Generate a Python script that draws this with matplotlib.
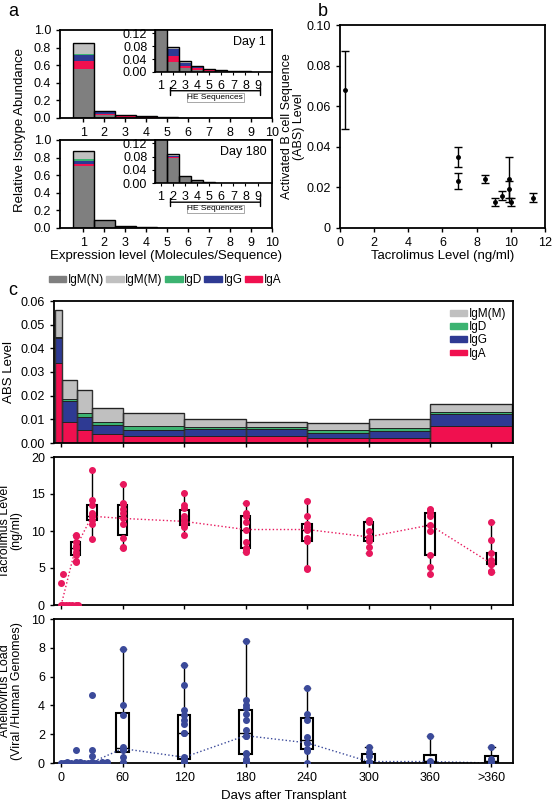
import numpy as np
import matplotlib
matplotlib.use('Agg')
import matplotlib.pyplot as plt
from matplotlib.patches import Patch

plt.rcParams['font.family'] = ['Liberation Sans', 'DejaVu Sans']
plt.rcParams['font.size'] = 9

# ---- panel a data: stacked cumulative tops per bin (IgM(N), +IgA, +IgG, +IgD, +IgM(M))
bins_a = np.arange(1, 11)
d1_n = [0.56, 0.032, 0.011, 0.005, 0.004, 0.002, 0.001, 0.001, 0.0005, 0.0003]
d1_a = [0.65, 0.050, 0.020, 0.013, 0.006, 0.003, 0.002, 0.0012, 0.0007, 0.0004]
d1_g = [0.72, 0.070, 0.028, 0.016, 0.008, 0.004, 0.0025, 0.0015, 0.0009, 0.0005]
d1_d = [0.73, 0.071, 0.029, 0.017, 0.0085, 0.0045, 0.0027, 0.0016, 0.001, 0.0006]
d1_m = [0.85, 0.078, 0.034, 0.019, 0.010, 0.005, 0.003, 0.002, 0.001, 0.0007]
d180_n = [0.71, 0.077, 0.018, 0.007, 0.0025, 0.001, 0.0005, 0.0003, 0.0002, 0.0001]
d180_a = [0.73, 0.079, 0.0185, 0.0072, 0.0026, 0.0011, 0.0005, 0.0003, 0.0002, 0.0001]
d180_g = [0.76, 0.082, 0.019, 0.0075, 0.0027, 0.0012, 0.0006, 0.0003, 0.0002, 0.0001]
d180_d = [0.78, 0.083, 0.0195, 0.0077, 0.0028, 0.0012, 0.0006, 0.0003, 0.0002, 0.0001]
d180_m = [0.88, 0.088, 0.020, 0.008, 0.003, 0.0013, 0.0006, 0.0003, 0.0002, 0.0001]

# ---- panel b data
tac_b = [0.3, 6.9, 6.9, 8.5, 9.1, 9.5, 9.9, 9.9, 10.0, 11.3]
abs_b = [0.068, 0.035, 0.023, 0.024, 0.013, 0.016, 0.024, 0.019, 0.013, 0.015]
err_b = [0.019, 0.005, 0.004, 0.002, 0.002, 0.002, 0.011, 0.004, 0.002, 0.002]

# ---- panel c top: ABS level bins (days) and cumulative tops
edges_c = [-6, 1, 15, 30, 60, 120, 180, 240, 300, 360, 440]
abs_iga = [0.034, 0.009, 0.0055, 0.004, 0.003, 0.003, 0.003, 0.002, 0.002, 0.0072]
abs_igg = [0.0445, 0.0178, 0.011, 0.0075, 0.0055, 0.006, 0.006, 0.0042, 0.005, 0.0122]
abs_igd = [0.045, 0.0188, 0.0127, 0.0087, 0.007, 0.0068, 0.0068, 0.0055, 0.0065, 0.013]
abs_igm = [0.056, 0.0265, 0.0225, 0.0148, 0.0125, 0.0103, 0.0088, 0.0083, 0.0101, 0.0163]

# ---- panel c middle: tacrolimus per visit
tac_days = [0, 14, 30, 60, 120, 180, 240, 300, 360, 420]
tac_vals = [
    [0, 0, 0, 0, 0, 0, 0, 3.0, 4.2],
    [5.8, 6.0, 6.8, 7.2, 7.7, 8.0, 8.5, 9.3, 9.5],
    [8.9, 11.0, 11.5, 12.0, 12.0, 12.5, 13.5, 14.2, 18.2],
    [7.7, 7.9, 9.0, 11.0, 11.7, 12.4, 13.0, 13.6, 13.8, 16.3],
    [9.4, 10.5, 10.8, 11.0, 11.3, 11.6, 12.0, 13.1, 13.5, 15.1],
    [7.2, 7.5, 7.7, 8.5, 10.2, 11.2, 12.0, 12.5, 13.8],
    [4.9, 5.0, 8.6, 9.0, 10.2, 10.5, 11.0, 12.0, 14.0],
    [7.0, 7.9, 8.7, 9.0, 9.2, 10.0, 11.2, 11.4, 11.5],
    [4.2, 5.2, 6.7, 10.0, 10.8, 12.0, 12.5, 12.9, 13.0],
    [4.4, 4.6, 5.5, 5.6, 5.6, 6.1, 7.0, 8.8, 11.2],
]
tac_day0_x = [0, 2, 5, 8, 11, 14, 16, 0, 2]
tac_med = [0, 7.7, 12.0, 11.7, 11.3, 10.2, 10.2, 9.2, 10.8, 5.6]

# ---- panel c bottom: anellovirus
an_early_x = [0, 3, 6, 10, 14, 14, 18, 22, 26, 30, 30, 30, 30, 34, 40, 45]
an_early_y = [0.02, 0.02, 0.05, 0.03, 0.9, 0.05, 0.04, 0.02, 0.03, 4.7, 0.9, 0.5, 0.05, 0.03, 0.08, 0.05]
an_days = [60, 120, 180, 240, 300, 360, 420]
an_vals = [
    [0.1, 0.4, 0.9, 1.0, 1.1, 3.3, 4.0, 7.9],
    [0.0, 0.05, 0.1, 0.3, 0.4, 2.1, 2.1, 2.7, 3.0, 3.3, 3.7, 5.4, 6.8],
    [0.05, 0.1, 0.3, 0.6, 0.7, 1.9, 1.9, 2.3, 3.0, 3.4, 3.8, 4.0, 4.4, 8.5],
    [0.0, 0.8, 1.0, 1.4, 1.8, 3.0, 3.4, 5.2],
    [0.0, 0.05, 0.1, 0.1, 0.5, 0.75, 1.1],
    [0.0, 0.1, 0.15, 1.85],
    [0.0, 0.05, 0.25, 1.1],
]
an_med_x = [0, 30, 60, 120, 180, 240, 300, 360, 420]
an_med = [0.0, 0.05, 1.0, 0.4, 1.9, 1.4, 0.1, 0.1, 0.0]

c_n, c_m, c_d, c_g, c_a = '#7f7f7f', '#c0c0c0', '#3cb371', '#2e3a93', '#f0104f'
pink, navy = '#e8175d', '#3b4a9a'

fig = plt.figure(figsize=(5.53, 8.0), dpi=100)
W, H = 553.0, 800.0
def ax_px(x0, y0, x1, y1):
    return fig.add_axes([x0 / W, 1 - y1 / H, (x1 - x0) / W, (y1 - y0) / H])

def stack_bars(ax, x, layers, colors, width=1.0):
    prev = np.zeros(len(x))
    for top, col in zip(layers, colors):
        top = np.array(top)
        ax.bar(x, top - prev, bottom=prev, width=width, color=col, edgecolor='none', align='center')
        prev = top
    ax.bar(x, prev, width=width, facecolor='none', edgecolor='black', linewidth=1.0)

def style(ax):
    for s in ax.spines.values():
        s.set_linewidth(1.3)
    ax.tick_params(direction='out', length=3, width=1)

cols_a = [c_n, c_a, c_g, c_d, c_m]
for (y0, y1, layers, lbl, iy1) in [
        (30, 118, [d1_n, d1_a, d1_g, d1_d, d1_m], 'Day 1', 72),
        (140, 228, [d180_n, d180_a, d180_g, d180_d, d180_m], 'Day 180', 183)]:
    ax = ax_px(60, y0, 272, y1)
    stack_bars(ax, bins_a, layers, cols_a)
    ax.set_xlim(-0.1, 10.0)
    ax.set_ylim(0, 1.0)
    ax.set_xticks(bins_a)
    ax.set_yticks(np.arange(0, 1.01, 0.2))
    ax.set_yticklabels(['%.1f' % v for v in np.arange(0, 1.01, 0.2)])
    style(ax)
    ins = ax_px(155, y0, 272, iy1)
    stack_bars(ins, bins_a, layers, cols_a)
    ins.set_xlim(0.5, 10.2)
    ins.set_ylim(0, 0.13)
    ins.set_yticks([0, 0.04, 0.08, 0.12])
    ins.set_yticklabels(['0.00', '0.04', '0.08', '0.12'])
    ins.set_xticks(range(1, 10))
    ins.tick_params(labelsize=9, length=2)
    for s in ins.spines.values():
        s.set_linewidth(1.2)
    ins.text(0.95, 0.85, lbl, transform=ins.transAxes, ha='right', va='top', fontsize=9)
    ins.annotate('', xy=(1.55, -0.058), xytext=(9.45, -0.058), xycoords=('data', 'data'),
                 arrowprops=dict(arrowstyle='|-|', lw=1, mutation_scale=3), annotation_clip=False)
    ins.text(5.5, -0.068, 'HE Sequences', ha='center', va='top', fontsize=6,
             bbox=dict(boxstyle='square,pad=0.1', fc='white', ec='#999999', lw=0.6), clip_on=False)
    if lbl == 'Day 180':
        ax.set_xlabel('Expression level (Molecules/Sequence)', fontsize=9.5, labelpad=1)
fig.text(20 / W, 1 - 130 / H, 'Relative Isotype Abundance', rotation=90, ha='center', va='center', fontsize=9.5)
fig.legend(handles=[Patch(color=c, label=l) for c, l in zip(
    [c_n, c_m, c_d, c_g, c_a], ['IgM(N)', 'IgM(M)', 'IgD', 'IgG', 'IgA'])],
    loc='center', bbox_to_anchor=(165 / W, 1 - 280 / H), ncol=5, frameon=False, fontsize=8.5,
    handlelength=1.5, handleheight=0.35, handletextpad=0.1, columnspacing=0.2)

# panel b
axb = ax_px(340, 25, 545, 228)
axb.errorbar(tac_b, abs_b, yerr=err_b, fmt='o', color='black', ms=2.5, capsize=3, elinewidth=1)
axb.set_xlim(0, 12)
axb.set_ylim(0, 0.1)
axb.set_xticks(range(0, 13, 2))
axb.set_yticks(np.arange(0, 0.101, 0.02))
axb.set_yticklabels(['0', '0.02', '0.04', '0.06', '0.08', '0.10'])
axb.set_xlabel('Tacrolimus Level (ng/ml)', fontsize=9.5, labelpad=1)
axb.set_ylabel('Activated B cell Sequence\n(ABS) Level', fontsize=9, labelpad=1, linespacing=1.0)
style(axb)

# panel c top
xt = [0, 60, 120, 180, 240, 300, 360, 420]
xtl = ['0', '60', '120', '180', '240', '300', '360', '>360']
ax1 = ax_px(54, 301, 513, 443)
left = np.array(edges_c[:-1]); wid = np.diff(edges_c)
prev = np.zeros(len(left))
for top, col in zip([abs_iga, abs_igg, abs_igd, abs_igm], [c_a, c_g, c_d, c_m]):
    top = np.array(top)
    ax1.bar(left, top - prev, bottom=prev, width=wid, align='edge', color=col, edgecolor='none')
    ax1.hlines(top, left, left + wid, color='#222222', lw=0.7)
    prev = top
ax1.bar(left, prev, width=wid, align='edge', facecolor='none', edgecolor='#333333', lw=1)
ax1.set_xlim(-7, 441)
ax1.set_ylim(0, 0.06)
ax1.set_xticks(xt); ax1.set_xticklabels([])
ax1.set_yticks(np.arange(0, 0.061, 0.01))
ax1.set_yticklabels(['0.00', '0.01', '0.02', '0.03', '0.04', '0.05', '0.06'])
ax1.set_ylabel('ABS Level', fontsize=9.5)
ax1.legend(handles=[Patch(color=c, label=l) for c, l in zip([c_m, c_d, c_g, c_a], ['IgM(M)', 'IgD', 'IgG', 'IgA'])],
           loc='upper right', frameon=False, fontsize=8.5, handlelength=1.5, handleheight=0.35,
           handletextpad=0.1, labelspacing=0.1, borderaxespad=0.2)
style(ax1)

# panel c middle
ax2 = ax_px(54, 457, 513, 605)
bp = ax2.boxplot(tac_vals[1:], positions=tac_days[1:], widths=9, whis=(0, 100), patch_artist=True,
                 showfliers=False, manage_ticks=False)
for b in bp['boxes']:
    b.set(facecolor='none', edgecolor='black', lw=1.5)
for k in ['medians', 'whiskers', 'caps']:
    for l in bp[k]:
        l.set(color='black', lw=1)
for d, v in zip(tac_days, tac_vals):
    xs = tac_day0_x if d == 0 else [d] * len(v)
    ax2.plot(xs, v, 'o', color=pink, ms=4, zorder=3)
ax2.plot(tac_days, tac_med, ':', color=pink, lw=1)
ax2.set_xlim(-7, 441); ax2.set_ylim(0, 20)
ax2.set_xticks(xt); ax2.set_xticklabels([])
ax2.set_yticks([0, 5, 10, 15, 20])
ax2.set_ylabel('Tacrolimus Level\n(ng/ml)', fontsize=9, labelpad=6, linespacing=1.0)
style(ax2)

# panel c bottom
ax3 = ax_px(54, 619, 513, 763)
bp = ax3.boxplot(an_vals, positions=an_days, widths=12, whis=(0, 100), patch_artist=True,
                 showfliers=False, manage_ticks=False)
for b in bp['boxes']:
    b.set(facecolor='none', edgecolor='black', lw=1.5)
for k in ['medians', 'whiskers', 'caps']:
    for l in bp[k]:
        l.set(color='black', lw=1)
ax3.plot(an_early_x, an_early_y, 'o', color=navy, ms=4, zorder=3)
for d, v in zip(an_days, an_vals):
    ax3.plot([d] * len(v), v, 'o', color=navy, ms=4, zorder=3)
ax3.plot(an_med_x, an_med, ':', color=navy, lw=1)
ax3.set_xlim(-7, 441); ax3.set_ylim(0, 10)
ax3.set_xticks(xt); ax3.set_xticklabels(xtl)
ax3.set_yticks(range(0, 11, 2))
ax3.set_ylabel('Anellovirus Load\n(Viral /Human Genomes)', fontsize=9, labelpad=6, linespacing=1.0)
ax3.set_xlabel('Days after Transplant', fontsize=9.5)
style(ax3)

for lbl, x, y in [('a', 8, 12), ('b', 318, 12), ('c', 8, 290)]:
    fig.text(x / W, 1 - y / H, lbl, fontsize=13, va='center')

fig.savefig('out.png', dpi=100)
